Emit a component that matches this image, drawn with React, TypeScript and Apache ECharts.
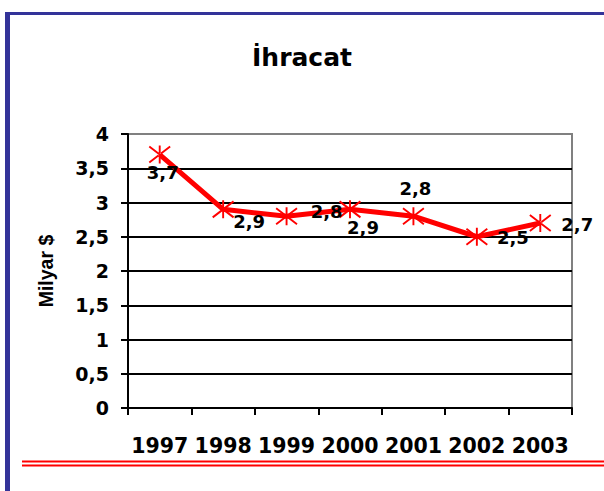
import React, { useEffect, useRef } from "react";
import * as echarts from "echarts";

const categories = ["1997", "1998", "1999", "2000", "2001", "2002", "2003"];
const values = [3.7, 2.9, 2.8, 2.9, 2.8, 2.5, 2.7];
const labelOffsets: [number, number][] = [
  [3, 18],
  [26, 12],
  [40, -5],
  [13, 18],
  [2, -28],
  [36, 1],
  [37, 1],
];
const titleText = "İhracat";
const yAxisName = "Milyar $";

const FONT = "'DejaVu Sans', 'Liberation Sans', Arial, sans-serif";
const FONT2 = "'Liberation Sans', Arial, sans-serif";

const starPath =
  "path://M10 0 L12 0 L12 18 L10 18 Z M0.6 0.2 L22.6 16.2 L21.4 17.8 L-0.6 1.8 Z M21.4 0.2 L-0.6 16.2 L0.6 17.8 L22.6 1.8 Z";

export default function App() {
  const ref = useRef<HTMLDivElement>(null);
  useEffect(() => {
    if (!ref.current) return;
    const chart = echarts.init(ref.current, null, { renderer: "svg" });
    const splitColors = ["#000", "#000", "#000", "#000", "#000", "#000", "#000", "#000", "#808080"];
    chart.setOption({
      animation: false,
      backgroundColor: "#fff",
      title: {
        text: titleText,
        left: "center",
        top: 40,
        textStyle: { fontFamily: FONT, fontWeight: "bold", fontSize: 25, color: "#000" },
      },
      grid: {
        left: 128,
        right: 32,
        top: 134,
        bottom: 83,
        show: true,
        borderColor: "#808080",
        borderWidth: 2,
        backgroundColor: "transparent",
      },
      xAxis: {
        type: "category",
        data: categories,
        boundaryGap: true,
        axisLine: { lineStyle: { color: "#000", width: 2 } },
        axisTick: { show: true, interval: 0, alignWithLabel: false, length: 7, lineStyle: { color: "#000", width: 2 } },
        axisLabel: {
          interval: 0,
          hideOverlap: false,
          margin: 27,
          fontFamily: FONT,
          fontWeight: "bold",
          fontSize: 20.5,
          color: "#000",
        },
      },
      yAxis: {
        type: "value",
        min: 0,
        max: 4,
        interval: 0.5,
        name: yAxisName,
        nameLocation: "middle",
        nameRotate: 90,
        nameGap: 72,
        nameTextStyle: { fontFamily: FONT2, fontWeight: "bold", fontSize: 19.5, color: "#000" },
        axisLine: { show: true, lineStyle: { color: "#000", width: 2 } },
        axisTick: { show: true, length: 7, lineStyle: { color: "#000", width: 2 } },
        axisLabel: {
          margin: 19,
          fontFamily: FONT,
          fontWeight: "bold",
          fontSize: 19,
          color: "#000",
          formatter: (v: number) => String(v).replace(".", ","),
        },
        splitLine: { show: true, lineStyle: { color: splitColors, width: 2 } },
      },
      series: [
        {
          type: "line",
          data: values.map((v, i) => ({
            value: v,
            label: { offset: labelOffsets[i] },
          })),
          symbol: starPath,
          symbolSize: [22, 18],
          itemStyle: { color: "#ff0000" },
          lineStyle: { color: "#ff0000", width: 5 },
          z: 3,
          label: {
            show: true,
            position: "inside",
            fontFamily: FONT,
            fontWeight: "bold",
            fontSize: 18,
            color: "#000",
            formatter: (p: any) => String(p.value).replace(".", ","),
          },
        },
      ],
      graphic: [
        { type: "rect", shape: { x: 5, y: 12, width: 599, height: 3 }, style: { fill: "#333399" } },
        { type: "rect", shape: { x: 5, y: 12, width: 5, height: 479 }, style: { fill: "#333399" } },
        { type: "rect", shape: { x: 22, y: 460.5, width: 582, height: 2 }, style: { fill: "#ff0000" } },
        { type: "rect", shape: { x: 22, y: 464.5, width: 582, height: 2 }, style: { fill: "#ff0000" } },
      ],
    });
    return () => chart.dispose();
  }, []);
  return (
    <div
      ref={ref}
      style={{ position: "fixed", left: 0, top: 0, width: 604, height: 491 }}
    />
  );
}
